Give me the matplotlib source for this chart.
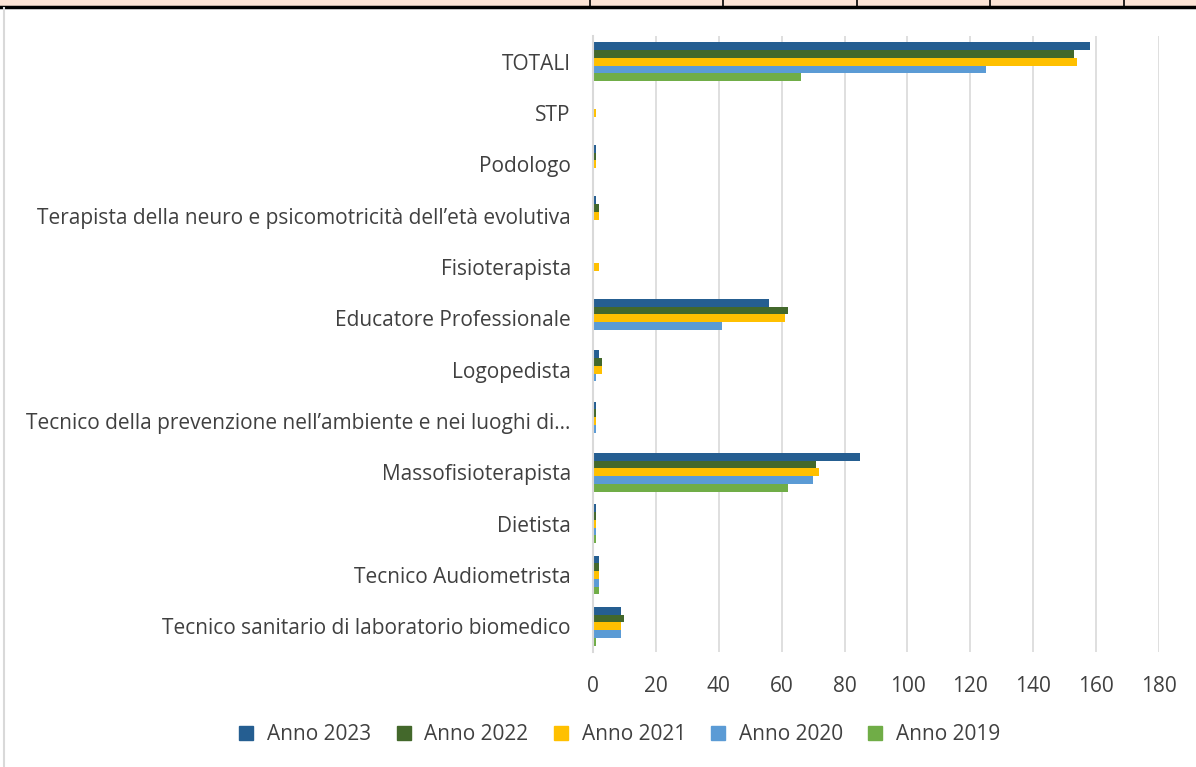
import matplotlib
matplotlib.use("Agg")
import matplotlib.pyplot as plt
import numpy as np
from matplotlib.lines import Line2D
from matplotlib.patches import Rectangle

CATEGORIES = [
    "TOTALI",
    "STP",
    "Podologo",
    "Terapista della neuro e psicomotricità dell’età evolutiva",
    "Fisioterapista",
    "Educatore Professionale",
    "Logopedista",
    "Tecnico della prevenzione nell’ambiente e nei luoghi di…",
    "Massofisioterapista",
    "Dietista",
    "Tecnico Audiometrista",
    "Tecnico sanitario di laboratorio biomedico",
]

YEARS = ["Anno 2023", "Anno 2022", "Anno 2021", "Anno 2020", "Anno 2019"]
V2023 = [158, 0, 1, 1, 0, 56, 2, 1, 85, 1, 2, 9]
V2022 = [153, 0, 1, 2, 0, 62, 3, 1, 71, 1, 2, 10]
V2021 = [154, 1, 1, 2, 2, 61, 3, 1, 72, 1, 2, 9]
V2020 = [125, 0, 0, 0, 0, 41, 1, 1, 70, 1, 2, 9]
V2019 = [66, 0, 0, 0, 0, 0, 0, 0, 62, 1, 2, 1]
SERIES = [V2023, V2022, V2021, V2020, V2019]
COLORS = ["#255E91", "#43682B", "#FFC000", "#5B9BD5", "#70AD47"]

plt.rcParams["font.family"] = ["Open Sans", "DejaVu Sans"]

fig = plt.figure(figsize=(11.96, 7.67), dpi=100)
ax = fig.add_axes([593 / 1196, 1 - 652 / 767, (1159 - 593) / 1196, (652 - 36) / 767])

y = np.arange(len(CATEGORIES))
h = 0.15
for i, (vals, col) in enumerate(zip(SERIES, COLORS)):
    ax.barh(y + (i - 2) * h, vals, height=h, color=col, label=YEARS[i], zorder=3)

ax.set_ylim(len(CATEGORIES) - 0.5, -0.5)
ax.set_xlim(0, 180)
ax.set_xticks(range(0, 181, 20))
ax.set_yticks(y)
ax.set_yticklabels(CATEGORIES)
ax.tick_params(axis="both", length=0, labelsize=15, colors="#404040")
ax.tick_params(axis="y", pad=16)
ax.tick_params(axis="x", pad=17)
ax.grid(axis="x", color="#d9d9d9", linewidth=1.2, zorder=0)
for s in ["top", "right", "bottom"]:
    ax.spines[s].set_visible(False)
ax.spines["left"].set_color("#d9d9d9")
ax.spines["left"].set_linewidth(1.5)
ax.spines["left"].set_zorder(4)

handles = [Line2D([], [], marker="s", linestyle="", color=c, markersize=10) for c in COLORS]
fig.legend(handles, YEARS, loc="center", bbox_to_anchor=(613 / 1196, 1 - 735 / 767),
           ncol=5, frameon=False, fontsize=15, handletextpad=0.0, columnspacing=0.55,
           labelcolor="#404040")

# table remnant at top of the page
fig.patches.append(Rectangle((0, 1 - 6 / 767), 1, 6 / 767, transform=fig.transFigure,
                             facecolor="#FCE4D6", edgecolor="none"))
fig.lines.append(Line2D([0, 1], [1 - 7 / 767] * 2, transform=fig.transFigure, color="black", linewidth=2.5))
for xd in [590, 723, 857, 990, 1124]:
    fig.lines.append(Line2D([xd / 1196] * 2, [1, 1 - 7 / 767], transform=fig.transFigure, color="black", linewidth=1.2))
fig.lines.append(Line2D([4 / 1196] * 2, [1 - 8 / 767, 0], transform=fig.transFigure, color="#d9d9d9", linewidth=1.5))

fig.savefig("out.png", dpi=100)
